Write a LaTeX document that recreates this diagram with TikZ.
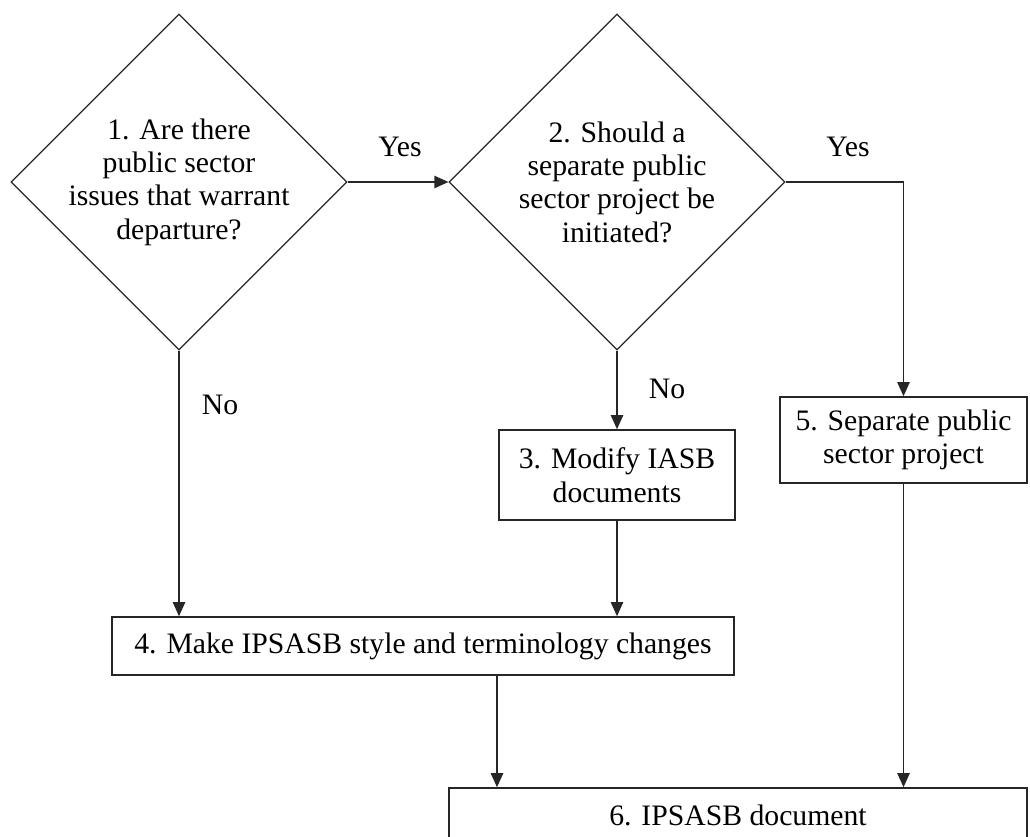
\documentclass[tikz,border=0pt]{standalone}
\usepackage{fontspec}
\setmainfont{Liberation Serif}
\usetikzlibrary{shapes.geometric,arrows.meta}
\begin{document}
\begin{tikzpicture}[x=0.02cm, y=-0.02cm, >={Triangle[length=8pt,width=7pt]},
  every node/.style={font=\fontsize{16.9}{19}\selectfont},
  decision/.style={diamond, draw=black!85, line width=0.7pt, minimum width=6.72cm, minimum height=6.72cm, inner sep=-8pt, align=center},
  process/.style={rectangle, draw=black!85, line width=0.9pt, inner sep=0pt, align=center},
  flow/.style={->, draw=black!85, line width=0.9pt}]

\useasboundingbox (0,0) rectangle (1030,837);
\clip (0,0) rectangle (1030,837);

% Decisions
\node[decision] (q1) at (179,182) {1. Are there\\public sector\\issues that warrant\\departure?};
\node[decision] (q2) at (617,182) {2. Should a\\separate public\\sector project be\\initiated?};

% Boxes
\node[process, minimum width=4.72cm, minimum height=1.8cm] (box3) at (617,475) {3. Modify IASB\\documents};
\node[process, minimum width=4.94cm, minimum height=1.72cm] (box5) at (903.5,440) {5. Separate public\\sector project};
\node[process, minimum width=12.44cm, minimum height=1.16cm] (box4) at (423,646) {4. Make IPSASB style and terminology changes};
\node[process, minimum width=11.56cm, minimum height=1.08cm] (box6) at (738,815) {6. IPSASB document};

% Connections
\draw[flow] (q1.east) -- (q2.west);
\draw[flow] (q2.east) -| (box5.north);
\draw[flow] (q2.south) -- (box3.north);
\draw[flow] (q1.south) -- (q1.south |- box4.north);
\draw[flow] (box3.south) -- (box3.south |- box4.north);
\draw[flow] ([xshift=1.48cm]box4.south) -- ([xshift=1.48cm]box4.south |- box6.north);
\draw[flow] (box5.south) -- (box5.south |- box6.north);

% Labels
\node (yes1) at (400,147) {Yes};
\node (yes2) at (848,147) {Yes};
\node (no1) at (220,405) {No};
\node (no2) at (667,389) {No};

\end{tikzpicture}
\end{document}
